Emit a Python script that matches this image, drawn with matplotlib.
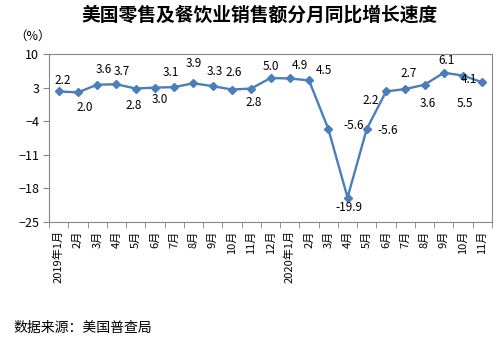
import matplotlib
import numpy as np
from matplotlib import pyplot as plt

matplotlib.use('Agg')
plt.rcParams['font.family'] = ['Noto Sans CJK SC', 'DejaVu Sans']

# 2019年1月 - 2020年11月 同比增速(%)
months = ['2019年1月', '2月', '3月', '4月', '5月', '6月', '7月', '8月', '9月', '10月', '11月', '12月',
          '2020年1月', '2月', '3月', '4月', '5月', '6月', '7月', '8月', '9月', '10月', '11月']
growth = [2.2, 2.0, 3.6, 3.7, 2.8, 3.0, 3.1, 3.9, 3.3, 2.6, 2.8, 5.0,
          4.9, 4.5, -5.6, -19.9, -5.6, 2.2, 2.7, 3.6, 6.1, 5.5, 4.1]
y_ticks = [10, 3, -4, -11, -18, -25]

# data label offsets, pixels from each marker
label_offsets = [(4, 11), (7, -15), (7, 15), (5, 13), (-2, -17), (5, -12), (-3, 15), (0, 20),
                 (2, 15), (2, 17), (2, -14), (0, 12), (10, 13), (15, 10), (25, 3), (1, -10),
                 (21, -2), (-15, -9), (3, 16), (3, -19), (3, 12), (2, -28), (-13, 3)]

blue = '#4a7ebb'
frame = '#868686'

fig = plt.figure(figsize=(5.04, 3.45), dpi=100)
ax = fig.add_axes([49 / 504, 1 - 222 / 345, 443 / 504, 168 / 345])

x = np.arange(len(growth))
ax.plot(x, growth, color=blue, lw=1.7, marker='D', ms=4.5, mfc=blue, mec=blue)

for xi, v, (dx, dy) in zip(x, growth, label_offsets):
    ax.annotate(f'{v:.1f}', (xi, v), xytext=(dx, dy), textcoords='offset pixels',
                ha='center', va='center', fontsize=8.5)

ax.set_xlim(-0.5, len(growth) - 0.5)
ax.set_ylim(-25, 10)
ax.set_yticks(y_ticks)
ax.tick_params(axis='y', length=4, color=frame, labelsize=9, pad=3)

ax.set_xticks(x)
ax.set_xticklabels(months, rotation=90, fontsize=8)
ax.tick_params(axis='x', which='major', length=0, pad=6)
ax.set_xticks(np.arange(-0.5, len(growth), 1), minor=True)
ax.tick_params(axis='x', which='minor', length=4, color=frame)

for s in ax.spines.values():
    s.set_color(frame)
    s.set_linewidth(0.8)

fig.text(260 / 504, 1 - 15 / 345, '美国零售及餐饮业销售额分月同比增长速度', ha='center', va='center',
         fontsize=13.5, fontweight='bold')
fig.text(33 / 504, 1 - 36 / 345, '（%）', ha='center', va='center', fontsize=9)
fig.text(13 / 504, 1 - 328 / 345, '数据来源：美国普查局', ha='left', va='center', fontsize=10)

plt.savefig('out.png', dpi=100)
